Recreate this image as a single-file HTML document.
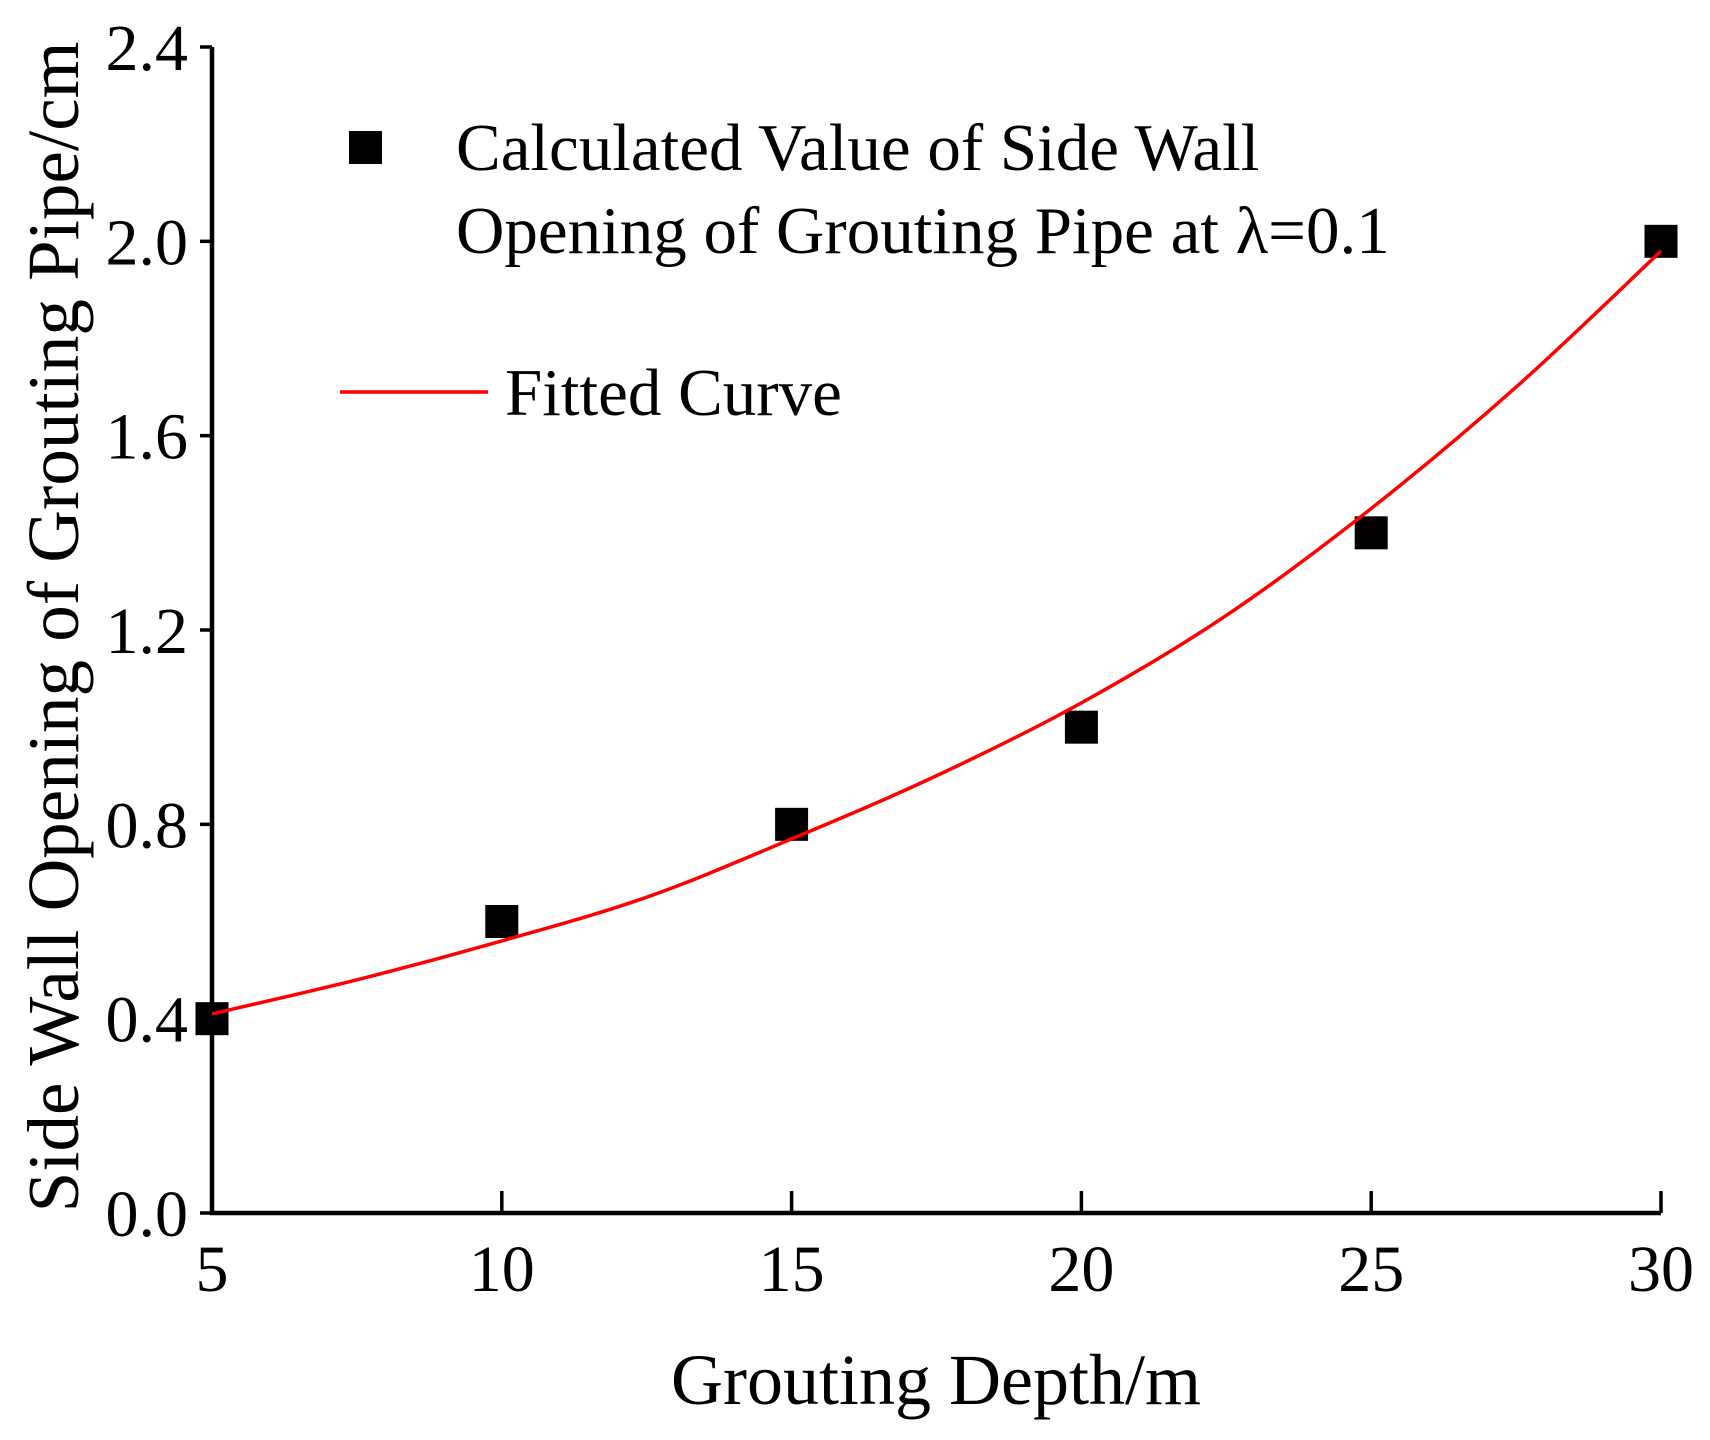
<!DOCTYPE html>
<html><head><meta charset="utf-8"><style>
html,body{margin:0;padding:0;background:#fff;}
svg{display:block;font-family:"Liberation Serif",serif;}
</style></head><body>
<svg id="chart" width="1710" height="1440" viewBox="0 0 1710 1440">
<g id="axes"></g>
<g id="marks"></g>
<text transform="translate(78,627) rotate(-90)" text-anchor="middle" font-size="73">Side Wall Opening of Grouting Pipe/cm</text>
<text x="936" y="1404" text-anchor="middle" font-size="72">Grouting Depth/m</text>
<g>
<rect x="349" y="131" width="33" height="33" fill="#000"/>
<text x="456" y="170" font-size="67">Calculated Value of Side Wall</text>
<text x="456" y="253" font-size="67">Opening of Grouting Pipe at λ=0.1</text>
<line x1="340" y1="392" x2="488" y2="392" stroke="#f00" stroke-width="3.5"/>
<text x="505" y="415" font-size="67">Fitted Curve</text>
</g>
</svg>
<script>
const depths = [5, 10, 15, 20, 25, 30];
const openings = [0.4, 0.6, 0.8, 1.0, 1.4, 2.0];
const fitDepths = [5, 7.5, 10, 12.5, 15, 17.5, 20, 22.5, 25, 27.5, 30];
const fitValues = [0.41, 0.48, 0.56, 0.65, 0.77, 0.90, 1.05, 1.23, 1.45, 1.70, 1.98];
const xTicks = [5, 10, 15, 20, 25, 30];
const yTicks = [0.0, 0.4, 0.8, 1.2, 1.6, 2.0, 2.4];
const yTickLabels = ["0.0", "0.4", "0.8", "1.2", "1.6", "2.0", "2.4"];

const X0 = 212, X1 = 1661, Y0 = 1213, Y1 = 47;
const xs = v => X0 + (v - 5) / 25 * (X1 - X0);
const ys = v => Y0 - v / 2.4 * (Y0 - Y1);
const NS = "http://www.w3.org/2000/svg";
function mk(tag, attrs, parent) {
  const e = document.createElementNS(NS, tag);
  for (const k in attrs) e.setAttribute(k, attrs[k]);
  parent.appendChild(e);
  return e;
}
const axes = document.getElementById('axes');
const marks = document.getElementById('marks');

const ax = mk('path', {d: `M${X0},${Y1} L${X0},${Y0} L${X1},${Y0}`, fill: 'none', stroke: '#000', 'stroke-width': 4.5}, axes);



xTicks.forEach(t => {
  const x = xs(t);
  const l = mk('line', {x1: x, y1: Y0, x2: x, y2: Y0 - 22, stroke: '#000', 'stroke-width': 3.5}, axes);
  
  
  const tx = mk('text', {x: x, y: 1291, 'text-anchor': 'middle', 'font-size': 66}, axes);
  tx.textContent = String(t);
  
  
});
yTicks.forEach((t, i) => {
  const y = ys(t);
  const l = mk('line', {x1: X0, y1: y, x2: X0 - 12, y2: y, stroke: '#000', 'stroke-width': 3.5}, axes);
  
  
  const tx = mk('text', {x: 188, y: y + 23, 'text-anchor': 'end', 'font-size': 66}, axes);
  tx.textContent = yTickLabels[i];
  
  
});

const pts = fitDepths.map((d, i) => [xs(d), ys(fitValues[i])]);
let d = `M${pts[0][0]},${pts[0][1]}`;
for (let i = 0; i < pts.length - 1; i++) {
  const p0 = pts[i - 1] || pts[i], p1 = pts[i], p2 = pts[i + 1], p3 = pts[i + 2] || p2;
  const c1 = [p1[0] + (p2[0] - p0[0]) / 6, p1[1] + (p2[1] - p0[1]) / 6];
  const c2 = [p2[0] - (p3[0] - p1[0]) / 6, p2[1] - (p3[1] - p1[1]) / 6];
  d += ` C${c1[0]},${c1[1]} ${c2[0]},${c2[1]} ${p2[0]},${p2[1]}`;
}
depths.forEach((dep, i) => {
  const r = mk('rect', {x: xs(dep) - 16.5, y: ys(openings[i]) - 16.5, width: 33, height: 33, fill: '#000'}, marks);
  
  
});
const curve = mk('path', {d: d, fill: 'none', stroke: '#f00', 'stroke-width': 3.5}, marks);


</script>
</body></html>
